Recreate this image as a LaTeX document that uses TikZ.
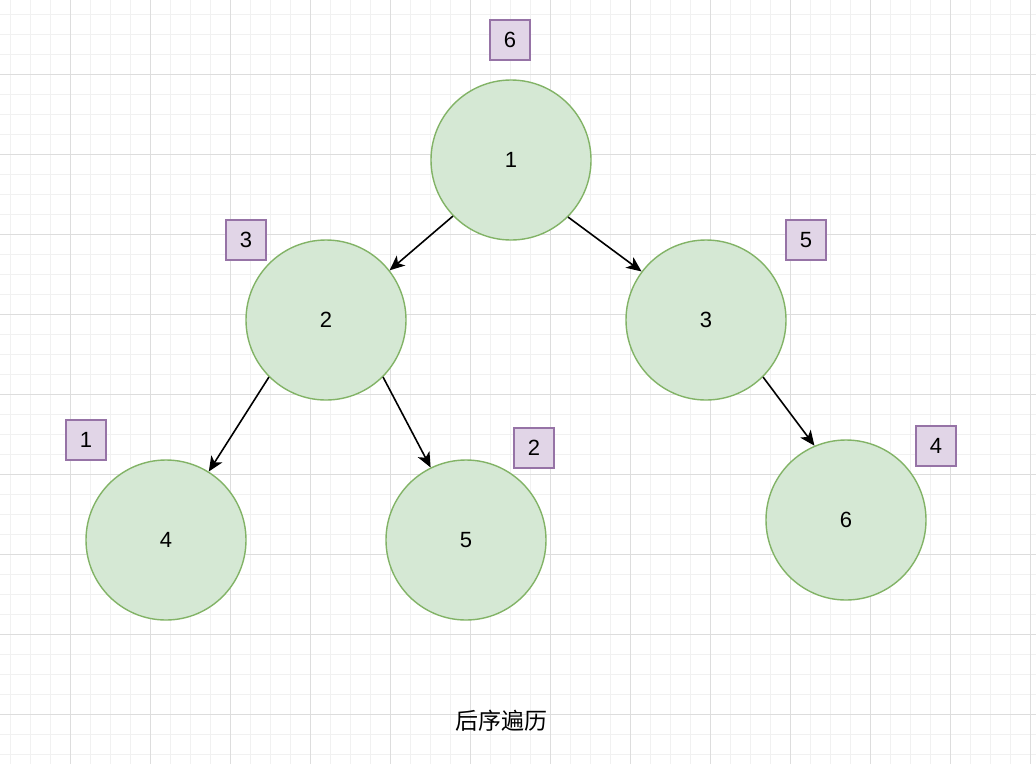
\documentclass[tikz,border=0pt]{standalone}
\usepackage{fontspec}
\setmainfont{Liberation Sans}
\newfontfamily\cjk{Noto Sans CJK SC}
\usetikzlibrary{arrows.meta}
\definecolor{leaf}{HTML}{D5E8D4}
\definecolor{leafline}{HTML}{82B366}
\definecolor{lilac}{HTML}{E1D5E7}
\definecolor{lilacline}{HTML}{9673A6}
\definecolor{gridminor}{HTML}{F1F1F1}
\definecolor{gridmajor}{HTML}{DDDDDD}
\tikzset{arr/.style={-{Stealth[length=15pt,width=13pt,inset=4pt]},line width=1.6pt,draw=black},
  circnode/.style={circle,draw=leafline,fill=leaf,line width=1.4pt,minimum size=160pt,inner sep=0pt,font=\fontsize{22}{26}\selectfont},
  ordbox/.style={draw=lilacline,fill=lilac,line width=1.4pt,minimum size=40pt,inner sep=0pt,font=\fontsize{22}{26}\selectfont}}

\begin{document}
\begin{tikzpicture}[x=1pt,y=-1pt]
\useasboundingbox (0,0) rectangle (1036,764);
\fill[white] (0,0) rectangle (1036,764);
% grid
\foreach \gx in {10,30,...,1030} \draw[gridminor,line width=1pt] (\gx,0) -- (\gx,764);
\foreach \gy in {14,34,...,754} \draw[gridminor,line width=1pt] (0,\gy) -- (1036,\gy);
\foreach \gx in {70,150,...,1030} \draw[gridmajor,line width=1pt] (\gx,0) -- (\gx,764);
\foreach \gy in {74,154,...,714} \draw[gridmajor,line width=1pt] (0,\gy) -- (1036,\gy);
% tree
\node[circnode] (n1) at (511,160) {1};
\node[circnode] (n2) at (326,320) {\raisebox{-2pt}{2}};
\node[circnode] (n3) at (706,320) {\raisebox{-2pt}{3}};
\node[circnode] (n4) at (166,540) {\raisebox{-2pt}{4}};
\node[circnode] (n5) at (466,540) {\raisebox{-2pt}{5}};
\node[circnode] (n6) at (846,520) {\raisebox{-2pt}{6}};
% visiting order
\node[ordbox] (o1) at (510,40) {6};
\node[ordbox] (o2) at (246,240) {3};
\node[ordbox] (o3) at (806,240) {5};
\node[ordbox] (o4) at (86,440) {1};
\node[ordbox] (o5) at (534,448) {2};
\node[ordbox] (o6) at (936,446) {4};
\draw[arr] (n1.224.5) -- (n2.38.5);
\draw[arr] (n1.315.5) -- (n3.143);
\draw[arr] (n2.225.5) -- (n4.58);
\draw[arr] (n2.315) -- (n5.116.6);
\draw[arr] (n3.315) -- (n6.113);
\node[font=\cjk\fontsize{23}{27}\selectfont] (cap) at (501,721) {后序遍历};
\end{tikzpicture}
\end{document}
